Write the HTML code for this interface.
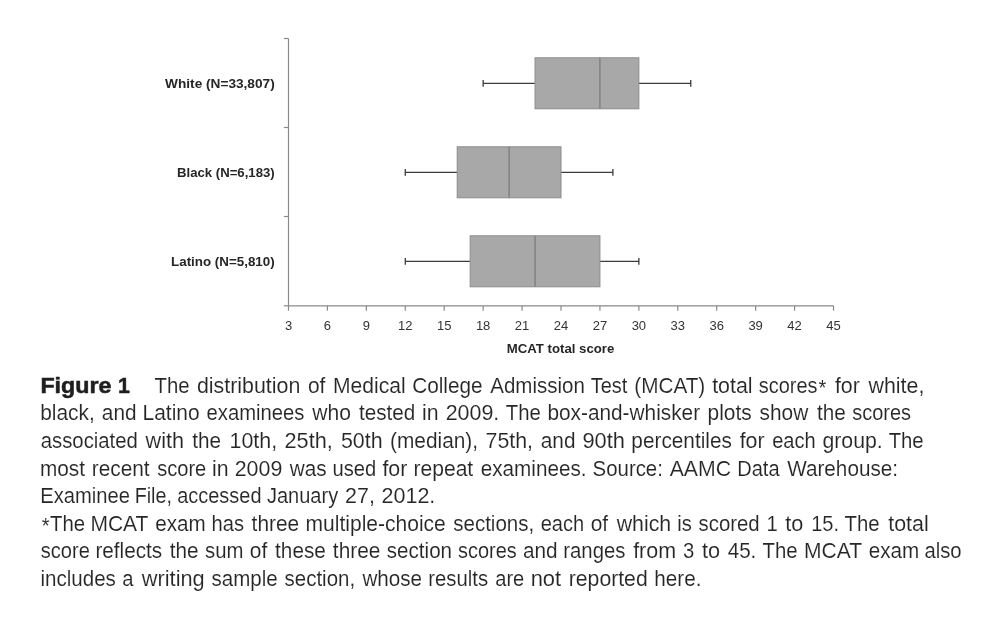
<!DOCTYPE html>
<html><head><meta charset="utf-8"><title>Figure 1</title>
<style>
html,body{margin:0;padding:0;background:#fff;}
body{width:1000px;height:640px;overflow:hidden;font-family:"Liberation Sans",sans-serif;}
svg{display:block;will-change:transform;transform:translateZ(0);}
text{font-family:"Liberation Sans",sans-serif;white-space:pre;}
.tk{font-size:13px;fill:#333;text-anchor:middle;}
.lb{font-size:13px;font-weight:bold;fill:#262626;}
.cp{font-size:21.6px;fill:#262626;stroke:#fff;stroke-width:0.12px;}
.cb{font-size:21.8px;font-weight:bold;fill:#1e1e1e;stroke:#1e1e1e;stroke-width:0.5px;}
</style></head><body>
<svg width="1000" height="640" viewBox="0 0 1000 640">
<rect width="1000" height="640" fill="#ffffff"/>

<g stroke="#8a8a8a" stroke-width="1.2" fill="none">
<path d="M288.5 38.5V305.8M288.5 305.8H833.5"/>
<path d="M283.8 38.5H288.5"/>
<path d="M283.8 127.5H288.5"/>
<path d="M283.8 216.5H288.5"/>
<path d="M283.8 305.8H288.5"/>
<path d="M288.50 305.8V310.7"/>
<path d="M327.43 305.8V310.7"/>
<path d="M366.36 305.8V310.7"/>
<path d="M405.29 305.8V310.7"/>
<path d="M444.21 305.8V310.7"/>
<path d="M483.14 305.8V310.7"/>
<path d="M522.07 305.8V310.7"/>
<path d="M561.00 305.8V310.7"/>
<path d="M599.93 305.8V310.7"/>
<path d="M638.86 305.8V310.7"/>
<path d="M677.79 305.8V310.7"/>
<path d="M716.71 305.8V310.7"/>
<path d="M755.64 305.8V310.7"/>
<path d="M794.57 305.8V310.7"/>
<path d="M833.50 305.8V310.7"/>
</g>
<path stroke="#3c3c3c" stroke-width="1.3" fill="none" d="M483.14 83.30H535.05M638.86 83.30H690.76M483.14 80.00V86.80M690.76 80.00V86.80"/>
<rect x="535.05" y="57.80" width="103.81" height="51.0" fill="#a8a8a8" stroke="#8c8c8c" stroke-width="1"/>
<path d="M599.93 57.80V108.80" stroke="#787878" stroke-width="1.2"/>
<path stroke="#3c3c3c" stroke-width="1.3" fill="none" d="M405.29 172.30H457.19M561.00 172.30H612.90M405.29 169.00V175.80M612.90 169.00V175.80"/>
<rect x="457.19" y="146.80" width="103.81" height="51.0" fill="#a8a8a8" stroke="#8c8c8c" stroke-width="1"/>
<path d="M509.10 146.80V197.80" stroke="#787878" stroke-width="1.2"/>
<path stroke="#3c3c3c" stroke-width="1.3" fill="none" d="M405.29 261.30H470.17M599.93 261.30H638.86M405.29 258.00V264.80M638.86 258.00V264.80"/>
<rect x="470.17" y="235.80" width="129.76" height="51.0" fill="#a8a8a8" stroke="#8c8c8c" stroke-width="1"/>
<path d="M535.05 235.80V286.80" stroke="#787878" stroke-width="1.2"/>
<text class="lb" x="165.10" y="87.7" textLength="109.59" lengthAdjust="spacingAndGlyphs">White (N=33,807)</text>
<text class="lb" x="176.98" y="176.8" textLength="97.70" lengthAdjust="spacingAndGlyphs">Black (N=6,183)</text>
<text class="lb" x="171.06" y="265.9" textLength="103.62" lengthAdjust="spacingAndGlyphs">Latino (N=5,810)</text>
<text class="lb" x="506.78" y="352.9" textLength="107.55" lengthAdjust="spacingAndGlyphs">MCAT total score</text>
<text class="tk" x="288.50" y="330.3">3</text>
<text class="tk" x="327.43" y="330.3">6</text>
<text class="tk" x="366.36" y="330.3">9</text>
<text class="tk" x="405.29" y="330.3">12</text>
<text class="tk" x="444.21" y="330.3">15</text>
<text class="tk" x="483.14" y="330.3">18</text>
<text class="tk" x="522.07" y="330.3">21</text>
<text class="tk" x="561.00" y="330.3">24</text>
<text class="tk" x="599.93" y="330.3">27</text>
<text class="tk" x="638.86" y="330.3">30</text>
<text class="tk" x="677.79" y="330.3">33</text>
<text class="tk" x="716.71" y="330.3">36</text>
<text class="tk" x="755.64" y="330.3">39</text>
<text class="tk" x="794.57" y="330.3">42</text>
<text class="tk" x="833.50" y="330.3">45</text>
<text class="cb" x="40.40" y="392.90" textLength="71.13" lengthAdjust="spacingAndGlyphs">Figure</text>
<text class="cb" x="117.92" y="392.90" textLength="11.86" lengthAdjust="spacingAndGlyphs">1</text>
<g class="cp">
<text x="154.50" y="392.80" textLength="35.07" lengthAdjust="spacingAndGlyphs">The</text>
<text x="196.96" y="392.80" textLength="103.40" lengthAdjust="spacingAndGlyphs">distribution</text>
<text x="308.00" y="392.80" textLength="17.43" lengthAdjust="spacingAndGlyphs">of</text>
<text x="333.01" y="392.80" textLength="72.58" lengthAdjust="spacingAndGlyphs">Medical</text>
<text x="412.14" y="392.80" textLength="70.50" lengthAdjust="spacingAndGlyphs">College</text>
<text x="490.27" y="392.80" textLength="94.69" lengthAdjust="spacingAndGlyphs">Admission</text>
<text x="590.69" y="392.80" textLength="36.67" lengthAdjust="spacingAndGlyphs">Test</text>
<text x="634.30" y="392.80" textLength="70.93" lengthAdjust="spacingAndGlyphs">(MCAT)</text>
<text x="712.17" y="392.80" textLength="40.43" lengthAdjust="spacingAndGlyphs">total</text>
<text x="758.85" y="392.80" textLength="58.70" lengthAdjust="spacingAndGlyphs">scores</text>
<text x="818.60" y="395.20" textLength="7.87" lengthAdjust="spacingAndGlyphs">*</text>
<text x="834.93" y="392.80" textLength="24.94" lengthAdjust="spacingAndGlyphs">for</text>
<text x="868.53" y="392.80" textLength="55.81" lengthAdjust="spacingAndGlyphs">white,</text>
</g>
<g class="cp">
<text x="40.20" y="420.37" textLength="54.60" lengthAdjust="spacingAndGlyphs">black,</text>
<text x="101.85" y="420.37" textLength="34.67" lengthAdjust="spacingAndGlyphs">and</text>
<text x="142.56" y="420.37" textLength="57.03" lengthAdjust="spacingAndGlyphs">Latino</text>
<text x="206.56" y="420.37" textLength="97.92" lengthAdjust="spacingAndGlyphs">examinees</text>
<text x="312.23" y="420.37" textLength="38.70" lengthAdjust="spacingAndGlyphs">who</text>
<text x="359.02" y="420.37" textLength="56.34" lengthAdjust="spacingAndGlyphs">tested</text>
<text x="421.98" y="420.37" textLength="16.58" lengthAdjust="spacingAndGlyphs">in</text>
<text x="445.68" y="420.37" textLength="53.65" lengthAdjust="spacingAndGlyphs">2009.</text>
<text x="505.81" y="420.37" textLength="35.07" lengthAdjust="spacingAndGlyphs">The</text>
<text x="547.44" y="420.37" textLength="152.62" lengthAdjust="spacingAndGlyphs">box-and-whisker</text>
<text x="707.62" y="420.37" textLength="44.11" lengthAdjust="spacingAndGlyphs">plots</text>
<text x="759.50" y="420.37" textLength="48.70" lengthAdjust="spacingAndGlyphs">show</text>
<text x="816.92" y="420.37" textLength="28.79" lengthAdjust="spacingAndGlyphs">the</text>
<text x="852.27" y="420.37" textLength="58.70" lengthAdjust="spacingAndGlyphs">scores</text>
</g>
<g class="cp">
<text x="40.74" y="447.94" textLength="97.13" lengthAdjust="spacingAndGlyphs">associated</text>
<text x="145.51" y="447.94" textLength="38.49" lengthAdjust="spacingAndGlyphs">with</text>
<text x="192.20" y="447.94" textLength="28.79" lengthAdjust="spacingAndGlyphs">the</text>
<text x="229.52" y="447.94" textLength="47.65" lengthAdjust="spacingAndGlyphs">10th,</text>
<text x="284.56" y="447.94" textLength="48.27" lengthAdjust="spacingAndGlyphs">25th,</text>
<text x="340.95" y="447.94" textLength="41.71" lengthAdjust="spacingAndGlyphs">50th</text>
<text x="390.01" y="447.94" textLength="88.10" lengthAdjust="spacingAndGlyphs">(median),</text>
<text x="485.56" y="447.94" textLength="47.45" lengthAdjust="spacingAndGlyphs">75th,</text>
<text x="540.77" y="447.94" textLength="34.67" lengthAdjust="spacingAndGlyphs">and</text>
<text x="582.48" y="447.94" textLength="42.50" lengthAdjust="spacingAndGlyphs">90th</text>
<text x="631.37" y="447.94" textLength="100.51" lengthAdjust="spacingAndGlyphs">percentiles</text>
<text x="739.68" y="447.94" textLength="24.94" lengthAdjust="spacingAndGlyphs">for</text>
<text x="772.21" y="447.94" textLength="43.50" lengthAdjust="spacingAndGlyphs">each</text>
<text x="822.42" y="447.94" textLength="60.28" lengthAdjust="spacingAndGlyphs">group.</text>
<text x="888.63" y="447.94" textLength="35.07" lengthAdjust="spacingAndGlyphs">The</text>
</g>
<g class="cp">
<text x="40.00" y="475.51" textLength="45.04" lengthAdjust="spacingAndGlyphs">most</text>
<text x="91.71" y="475.51" textLength="57.88" lengthAdjust="spacingAndGlyphs">recent</text>
<text x="157.13" y="475.51" textLength="49.12" lengthAdjust="spacingAndGlyphs">score</text>
<text x="211.96" y="475.51" textLength="16.58" lengthAdjust="spacingAndGlyphs">in</text>
<text x="234.72" y="475.51" textLength="47.60" lengthAdjust="spacingAndGlyphs">2009</text>
<text x="289.81" y="475.51" textLength="36.85" lengthAdjust="spacingAndGlyphs">was</text>
<text x="332.41" y="475.51" textLength="43.79" lengthAdjust="spacingAndGlyphs">used</text>
<text x="382.44" y="475.51" textLength="24.94" lengthAdjust="spacingAndGlyphs">for</text>
<text x="413.47" y="475.51" textLength="59.74" lengthAdjust="spacingAndGlyphs">repeat</text>
<text x="480.76" y="475.51" textLength="105.82" lengthAdjust="spacingAndGlyphs">examinees.</text>
<text x="592.61" y="475.51" textLength="70.26" lengthAdjust="spacingAndGlyphs">Source:</text>
<text x="669.67" y="475.51" textLength="61.39" lengthAdjust="spacingAndGlyphs">AAMC</text>
<text x="737.21" y="475.51" textLength="42.42" lengthAdjust="spacingAndGlyphs">Data</text>
<text x="787.21" y="475.51" textLength="110.79" lengthAdjust="spacingAndGlyphs">Warehouse:</text>
</g>
<g class="cp">
<text x="40.30" y="503.08" textLength="89.73" lengthAdjust="spacingAndGlyphs">Examinee</text>
<text x="134.63" y="503.08" textLength="37.32" lengthAdjust="spacingAndGlyphs">File,</text>
<text x="177.26" y="503.08" textLength="84.23" lengthAdjust="spacingAndGlyphs">accessed</text>
<text x="266.97" y="503.08" textLength="71.21" lengthAdjust="spacingAndGlyphs">January</text>
<text x="345.12" y="503.08" textLength="29.81" lengthAdjust="spacingAndGlyphs">27,</text>
<text x="381.46" y="503.08" textLength="53.89" lengthAdjust="spacingAndGlyphs">2012.</text>
</g>
<g class="cp">
<text x="41.73" y="533.05" textLength="7.87" lengthAdjust="spacingAndGlyphs">*</text>
<text x="50.11" y="530.65" textLength="35.07" lengthAdjust="spacingAndGlyphs">The</text>
<text x="90.42" y="530.65" textLength="57.99" lengthAdjust="spacingAndGlyphs">MCAT</text>
<text x="155.17" y="530.65" textLength="50.47" lengthAdjust="spacingAndGlyphs">exam</text>
<text x="211.49" y="530.65" textLength="32.52" lengthAdjust="spacingAndGlyphs">has</text>
<text x="251.61" y="530.65" textLength="47.52" lengthAdjust="spacingAndGlyphs">three</text>
<text x="305.58" y="530.65" textLength="140.25" lengthAdjust="spacingAndGlyphs">multiple-choice</text>
<text x="453.22" y="530.65" textLength="80.95" lengthAdjust="spacingAndGlyphs">sections,</text>
<text x="540.66" y="530.65" textLength="43.50" lengthAdjust="spacingAndGlyphs">each</text>
<text x="590.71" y="530.65" textLength="17.43" lengthAdjust="spacingAndGlyphs">of</text>
<text x="616.73" y="530.65" textLength="54.52" lengthAdjust="spacingAndGlyphs">which</text>
<text x="677.15" y="530.65" textLength="14.61" lengthAdjust="spacingAndGlyphs">is</text>
<text x="698.56" y="530.65" textLength="61.16" lengthAdjust="spacingAndGlyphs">scored</text>
<text x="766.56" y="530.65" textLength="11.25" lengthAdjust="spacingAndGlyphs">1</text>
<text x="785.35" y="530.65" textLength="18.05" lengthAdjust="spacingAndGlyphs">to</text>
<text x="811.13" y="530.65" textLength="27.89" lengthAdjust="spacingAndGlyphs">15.</text>
<text x="844.50" y="530.65" textLength="35.07" lengthAdjust="spacingAndGlyphs">The</text>
<text x="888.24" y="530.65" textLength="40.43" lengthAdjust="spacingAndGlyphs">total</text>
</g>
<g class="cp">
<text x="40.79" y="558.22" textLength="49.12" lengthAdjust="spacingAndGlyphs">score</text>
<text x="95.40" y="558.22" textLength="66.80" lengthAdjust="spacingAndGlyphs">reflects</text>
<text x="169.66" y="558.22" textLength="28.79" lengthAdjust="spacingAndGlyphs">the</text>
<text x="205.11" y="558.22" textLength="38.39" lengthAdjust="spacingAndGlyphs">sum</text>
<text x="249.77" y="558.22" textLength="17.43" lengthAdjust="spacingAndGlyphs">of</text>
<text x="275.10" y="558.22" textLength="50.72" lengthAdjust="spacingAndGlyphs">these</text>
<text x="332.86" y="558.22" textLength="47.52" lengthAdjust="spacingAndGlyphs">three</text>
<text x="386.83" y="558.22" textLength="65.21" lengthAdjust="spacingAndGlyphs">section</text>
<text x="458.00" y="558.22" textLength="58.70" lengthAdjust="spacingAndGlyphs">scores</text>
<text x="523.01" y="558.22" textLength="34.67" lengthAdjust="spacingAndGlyphs">and</text>
<text x="563.32" y="558.22" textLength="62.09" lengthAdjust="spacingAndGlyphs">ranges</text>
<text x="633.13" y="558.22" textLength="42.88" lengthAdjust="spacingAndGlyphs">from</text>
<text x="683.05" y="558.22" textLength="11.25" lengthAdjust="spacingAndGlyphs">3</text>
<text x="702.09" y="558.22" textLength="18.05" lengthAdjust="spacingAndGlyphs">to</text>
<text x="727.69" y="558.22" textLength="28.65" lengthAdjust="spacingAndGlyphs">45.</text>
<text x="762.59" y="558.22" textLength="35.07" lengthAdjust="spacingAndGlyphs">The</text>
<text x="804.06" y="558.22" textLength="57.99" lengthAdjust="spacingAndGlyphs">MCAT</text>
<text x="868.78" y="558.22" textLength="50.47" lengthAdjust="spacingAndGlyphs">exam</text>
<text x="924.45" y="558.22" textLength="37.10" lengthAdjust="spacingAndGlyphs">also</text>
</g>
<g class="cp">
<text x="40.52" y="585.79" textLength="75.33" lengthAdjust="spacingAndGlyphs">includes</text>
<text x="122.32" y="585.79" textLength="11.25" lengthAdjust="spacingAndGlyphs">a</text>
<text x="141.83" y="585.79" textLength="62.86" lengthAdjust="spacingAndGlyphs">writing</text>
<text x="211.53" y="585.79" textLength="66.15" lengthAdjust="spacingAndGlyphs">sample</text>
<text x="284.62" y="585.79" textLength="70.46" lengthAdjust="spacingAndGlyphs">section,</text>
<text x="362.39" y="585.79" textLength="59.62" lengthAdjust="spacingAndGlyphs">whose</text>
<text x="428.31" y="585.79" textLength="59.78" lengthAdjust="spacingAndGlyphs">results</text>
<text x="495.24" y="585.79" textLength="29.07" lengthAdjust="spacingAndGlyphs">are</text>
<text x="530.69" y="585.79" textLength="30.44" lengthAdjust="spacingAndGlyphs">not</text>
<text x="568.75" y="585.79" textLength="78.96" lengthAdjust="spacingAndGlyphs">reported</text>
<text x="654.35" y="585.79" textLength="47.14" lengthAdjust="spacingAndGlyphs">here.</text>
</g>
</svg>
</body></html>
